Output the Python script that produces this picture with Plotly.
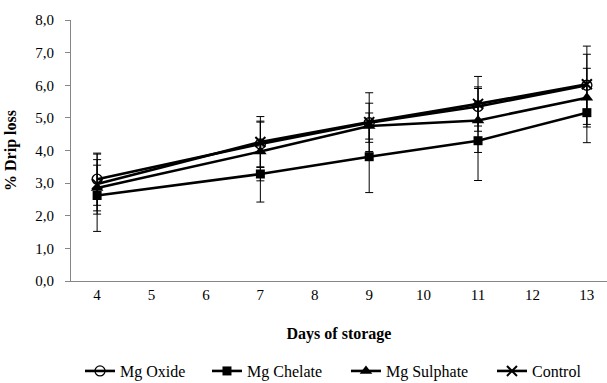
import plotly.graph_objects as go

days = [4, 7, 9, 11, 13]
x_ticks = [4, 5, 6, 7, 8, 9, 10, 11, 12, 13]
oxide = [3.12, 4.20, 4.85, 5.35, 6.00]
oxide_err = [0.80, 0.70, 0.60, 0.60, 1.20]
chelate = [2.62, 3.28, 3.81, 4.30, 5.16]
chelate_err = [1.10, 0.86, 1.10, 1.22, 0.92]
sulphate = [2.85, 3.97, 4.75, 4.92, 5.62]
sulphate_err = [0.70, 0.90, 0.40, 0.98, 0.90]
control = [2.97, 4.26, 4.87, 5.43, 6.03]
control_err = [0.92, 0.78, 0.90, 0.84, 0.92]

series = [
    ("Mg Oxide", oxide, oxide_err, dict(symbol="circle-open", size=10, color="black", line=dict(width=1.3, color="black")), "legend", 0.0168),
    ("Mg Chelate", chelate, chelate_err, dict(symbol="square", size=9, color="black"), "legend2", 0.2537),
    ("Mg Sulphate", sulphate, sulphate_err, dict(symbol="triangle-up", size=11, color="black"), "legend3", 0.513),
    ("Control", control, control_err, dict(symbol="x-thin-open", size=10, color="black", line=dict(width=2, color="black")), "legend4", 0.7854),
]

fam = "Liberation Serif"
fig = go.Figure()
legends = {}
for name, vals, err, marker, leg, lx in series:
    fig.add_trace(go.Scatter(
        x=days, y=vals, name=name, mode="lines+markers",
        line=dict(color="black", width=2.6),
        marker=marker, legend=leg,
        error_y=dict(type="data", array=err, visible=True, color="black", thickness=1, width=4),
    ))
    legends[leg] = dict(orientation="h", x=lx, xanchor="left", y=-0.345, yanchor="middle",
                        font=dict(family=fam, size=16, color="black"), bgcolor="rgba(0,0,0,0)")

fig.update_layout(
    width=607, height=383,
    margin=dict(l=71, r=0, t=20, b=102, autoexpand=False),
    paper_bgcolor="white", plot_bgcolor="white",
    font=dict(family=fam, size=15, color="black"),
    separators=",.",
    showlegend=True,
    xaxis=dict(range=[3.52, 13.37], tickmode="array", tickvals=x_ticks,
               showgrid=False, zeroline=False, showline=True, linecolor="#868686",
               ticks="", automargin=False, tickfont=dict(family=fam, size=15),
               title=dict(text="<b>Days of storage</b>", standoff=25,
                          font=dict(family=fam, size=16))),
    yaxis=dict(range=[0, 8], dtick=1, tickformat=".1f", showgrid=False, zeroline=False,
               showline=True, linecolor="#868686", ticks="outside", ticklen=5, tickcolor="#868686",
               ticklabelstandoff=8, automargin=False, tickfont=dict(family=fam, size=15),
               title=dict(text="<b>% Drip loss</b>", standoff=14,
                          font=dict(family=fam, size=16))),
    **legends,
)

fig.write_html("out.html", config={"displayModeBar": False},
               post_script="document.body.style.margin='0';document.body.style.overflow='hidden';")
